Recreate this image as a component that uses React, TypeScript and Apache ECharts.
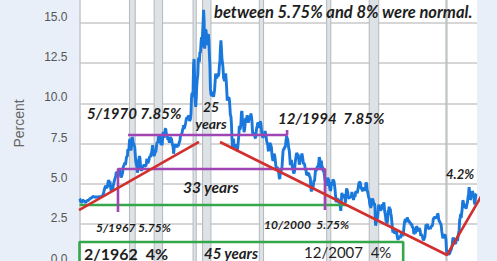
import React, { useEffect, useRef } from "react";
import * as echarts from "echarts";

// Monthly 10-year Treasury yield (percent), starting Jan 1962
const START_YEAR = 1962;
const yields1960s = [
  4.08, 4.04, 3.93, 3.84, 3.87, 3.91, 4.01, 3.98, 3.98, 3.93, 3.92, 3.86,
  3.83, 3.92, 3.93, 3.97, 3.93, 3.99, 4.02, 4.0, 4.08, 4.11, 4.12, 4.13,
  4.17, 4.15, 4.22, 4.23, 4.2, 4.17, 4.19, 4.19, 4.2, 4.19, 4.15, 4.18,
  4.19, 4.21, 4.21, 4.2, 4.21, 4.21, 4.2, 4.25, 4.29, 4.35, 4.45, 4.62,
  4.61, 4.83, 4.87, 4.75, 4.78, 4.81, 5.02, 5.22, 5.18, 5.01, 5.16, 4.84,
  4.58, 4.63, 4.54, 4.59, 4.85, 5.02, 5.16, 5.28, 5.3, 5.48, 5.75, 5.7,
  5.53, 5.56, 5.74, 5.64, 5.87, 5.72, 5.5, 5.42, 5.46, 5.58, 5.7, 6.03,
  6.04, 6.19, 6.3, 6.17, 6.32, 6.57, 6.72, 6.69, 7.16, 7.1, 7.14, 7.65,
];
const yields1970s = [
  7.8, 7.24, 7.07, 7.39, 7.91, 7.84, 7.46, 7.53, 7.39, 7.33, 6.84, 6.39,
  6.24, 6.11, 5.7, 5.83, 6.39, 6.52, 6.73, 6.58, 6.14, 5.93, 5.81, 5.93,
  5.95, 6.08, 6.07, 6.19, 6.13, 6.11, 6.11, 6.21, 6.55, 6.48, 6.28, 6.36,
  6.46, 6.64, 6.71, 6.67, 6.85, 6.9, 7.13, 7.4, 7.09, 6.79, 6.73, 6.74,
  6.99, 6.96, 7.21, 7.51, 7.58, 7.54, 7.81, 8.04, 8.04, 7.9, 7.68, 7.43,
  7.5, 7.39, 7.73, 8.23, 8.06, 7.86, 8.06, 8.4, 8.43, 8.14, 8.05, 8.0,
  7.74, 7.79, 7.73, 7.56, 7.9, 7.86, 7.83, 7.77, 7.59, 7.41, 7.29, 6.87,
  7.21, 7.39, 7.46, 7.37, 7.46, 7.28, 7.33, 7.4, 7.34, 7.52, 7.58, 7.69,
  7.96, 8.03, 8.04, 8.15, 8.35, 8.46, 8.64, 8.41, 8.42, 8.64, 8.81, 9.01,
  9.1, 9.1, 9.12, 9.18, 9.25, 8.91, 8.95, 9.03, 9.33, 10.3, 10.65, 10.39,
];
const yields1980s = [
  10.8, 12.41, 12.75, 11.47, 10.18, 9.78, 10.25, 11.1, 11.51, 11.75, 12.68, 12.84,
  12.57, 13.19, 13.12, 13.68, 14.1, 13.47, 14.28, 14.94, 15.8, 15.15, 13.39, 13.72,
  14.59, 14.43, 13.86, 13.87, 13.62, 14.3, 13.95, 13.06, 12.34, 10.91, 10.55, 10.54,
  10.46, 10.72, 10.51, 10.4, 10.38, 10.85, 11.38, 11.85, 11.65, 11.54, 11.69, 11.83,
  11.67, 11.84, 12.32, 12.63, 13.41, 13.9, 13.36, 12.72, 12.52, 12.16, 11.57, 11.5,
  11.38, 11.51, 11.86, 11.43, 10.85, 10.16, 10.31, 10.33, 10.37, 10.24, 9.78, 9.26,
  9.19, 8.7, 7.78, 7.3, 7.71, 7.8, 7.3, 7.17, 7.45, 7.43, 7.25, 7.11,
  7.08, 7.25, 7.25, 8.02, 8.61, 8.4, 8.45, 8.76, 9.42, 9.52, 8.86, 8.99,
  8.67, 8.21, 8.37, 8.72, 9.09, 8.92, 9.06, 9.26, 8.98, 8.8, 8.96, 9.11,
  9.09, 9.17, 9.36, 9.18, 8.86, 8.28, 8.02, 8.11, 8.19, 8.01, 7.87, 7.84,
];
const yields1990s = [
  8.21, 8.47, 8.59, 8.79, 8.76, 8.48, 8.47, 8.75, 8.89, 8.72, 8.39, 8.08,
  8.09, 7.85, 8.11, 8.04, 8.07, 8.28, 8.27, 7.9, 7.65, 7.53, 7.42, 7.09,
  7.03, 7.34, 7.54, 7.48, 7.39, 7.26, 6.84, 6.59, 6.42, 6.59, 6.87, 6.77,
  6.6, 6.26, 5.98, 5.97, 6.04, 5.96, 5.81, 5.68, 5.36, 5.33, 5.72, 5.77,
  5.75, 5.97, 6.48, 6.97, 7.18, 7.1, 7.3, 7.24, 7.46, 7.74, 7.96, 7.81,
  7.78, 7.47, 7.2, 7.06, 6.63, 6.17, 6.28, 6.49, 6.2, 6.04, 5.93, 5.71,
  5.65, 5.81, 6.27, 6.51, 6.74, 6.91, 6.87, 6.64, 6.83, 6.53, 6.2, 6.3,
  6.58, 6.42, 6.69, 6.89, 6.71, 6.49, 6.22, 6.3, 6.21, 6.03, 5.88, 5.81,
  5.54, 5.57, 5.65, 5.64, 5.65, 5.5, 5.46, 5.34, 4.81, 4.53, 4.83, 4.65,
  4.72, 5.0, 5.23, 5.18, 5.54, 5.9, 5.79, 5.94, 5.92, 6.11, 6.03, 6.28,
];
const yields2000s = [
  6.66, 6.52, 6.26, 5.99, 6.44, 6.1, 6.05, 5.83, 5.8, 5.74, 5.72, 5.24,
  5.16, 5.1, 4.89, 5.14, 5.39, 5.28, 5.24, 4.97, 4.73, 4.57, 4.65, 5.09,
  5.04, 4.91, 5.28, 5.21, 5.16, 4.93, 4.65, 4.26, 3.87, 3.94, 4.05, 4.03,
  4.05, 3.9, 3.81, 3.96, 3.57, 3.33, 3.98, 4.45, 4.27, 4.29, 4.3, 4.27,
  4.15, 4.08, 3.83, 4.35, 4.72, 4.73, 4.5, 4.28, 4.13, 4.1, 4.19, 4.23,
  4.22, 4.17, 4.5, 4.34, 4.14, 4.0, 4.18, 4.26, 4.2, 4.46, 4.54, 4.47,
  4.42, 4.57, 4.72, 4.99, 5.11, 5.11, 5.09, 4.88, 4.72, 4.73, 4.6, 4.56,
  4.76, 4.72, 4.56, 4.69, 4.75, 5.1, 5.0, 4.67, 4.52, 4.53, 4.15, 4.1,
  3.74, 3.74, 3.51, 3.68, 3.88, 4.1, 4.01, 3.89, 3.69, 3.81, 3.53, 2.42,
  2.52, 2.87, 2.82, 2.93, 3.29, 3.72, 3.56, 3.59, 3.4, 3.39, 3.4, 3.59,
];
const yields2010s = [
  3.73, 3.69, 3.73, 3.85, 3.42, 3.2, 3.01, 2.7, 2.65, 2.54, 2.76, 3.29,
  3.39, 3.58, 3.41, 3.46, 3.17, 3.0, 3.0, 2.3, 1.98, 2.15, 2.01, 1.98,
  1.97, 1.97, 2.17, 2.05, 1.8, 1.62, 1.53, 1.68, 1.72, 1.75, 1.65, 1.72,
  1.91, 1.98, 1.96, 1.76, 1.93, 2.3, 2.58, 2.74, 2.81, 2.62, 2.72, 2.9,
  2.86, 2.71, 2.72, 2.71, 2.56, 2.6, 2.54, 2.42, 2.53, 2.3, 2.33, 2.21,
  1.88, 1.98, 2.04, 1.94, 2.2, 2.36, 2.32, 2.17, 2.17, 2.07, 2.26, 2.24,
  2.09, 1.78, 1.89, 1.81, 1.81, 1.64, 1.5, 1.56, 1.63, 1.76, 2.14, 2.49,
  2.43, 2.42, 2.48, 2.3, 2.3, 2.19, 2.32, 2.21, 2.2, 2.36, 2.35, 2.4,
  2.58, 2.86, 2.84, 2.87, 2.98, 2.91, 2.89, 2.89, 3.0, 3.15, 3.12, 2.83,
  2.71, 2.68, 2.57, 2.53, 2.4, 2.07, 2.06, 1.63, 1.7, 1.71, 1.81, 1.86,
];
const yields2020s = [
  1.76, 1.5, 0.87, 0.66, 0.67, 0.73, 0.62, 0.65, 0.68, 0.79, 0.87, 0.93,
  1.08, 1.26, 1.61, 1.64, 1.62, 1.52, 1.32, 1.28, 1.37, 1.58, 1.56, 1.47,
  1.76, 1.93, 2.13, 2.75, 2.9, 3.14, 2.9, 2.9, 3.52, 3.98, 3.89, 3.62,
  3.53, 3.75, 3.66, 3.46, 3.57, 3.75, 3.9, 4.17, 4.38, 4.8, 4.5, 4.02,
  4.06, 4.21, 4.21, 4.54, 4.48, 4.31, 4.25, 3.87, 3.72, 4.1, 4.36, 4.39,
];

// NBER recessions [start, end] in decimal years
const recessions = [
  [1969.92, 1970.83],
  [1973.83, 1975.17],
  [1980.0, 1980.5],
  [1981.5, 1982.83],
  [1990.5, 1991.17],
  [2001.17, 2001.83],
  [2007.92, 2009.42],
  [2020.08, 2020.25],
];

// Annotation trend lines, [year, percent]
const redLines = [
  [[1961.92, 3.38], [1980.94, 7.6]],
  [[1984.27, 7.6], [2020.24, 0.59], [2025.79, 4.31]],
];
const purpleLines = [
  [[1968.1, 3.26], [1968.1, 5.92], [2000.9, 5.92], [2000.9, 3.38]],
  [[1969.7, 8.03], [1994.9, 8.03], [1994.9, 8.34]],
];
const greenLines = [
  [[1962.0, 3.69], [2004.4, 3.69]],
  [[1962.0, -0.8], [1962.0, 1.4], [2013.3, 1.4], [2013.3, -0.8]],
];

const Y_MIN = 0;
const Y_MAX = 17.5;
const Y_STEP = 2.5;
const X_MIN = 1962;
const X_MAX = 2025;

// the chart is drawn taller than the window and shifted up (cropped view)
const SHIFT = 40;

export default function App() {
  const ref = useRef<HTMLDivElement>(null);
  useEffect(() => {
    if (!ref.current) return;
    const chart = echarts.init(ref.current, null, { renderer: "svg" });
    const all = [
      ...yields1960s,
      ...yields1970s,
      ...yields1980s,
      ...yields1990s,
      ...yields2000s,
      ...yields2010s,
      ...yields2020s,
    ];
    const data = all.map((v, i) => [START_YEAR + i / 12, v]);

    const lineSeries = (segs: number[][][], color: string, z: number) =>
      segs.map((seg) => ({
        type: "line",
        data: seg,
        symbol: "none",
        clip: false,
        silent: true,
        z,
        lineStyle: { color, width: 2.6 },
      }));

    const bi = {
      fontFamily: "Lato",
      fontWeight: "bold",
      fontStyle: "italic",
      fill: "#1e1e1e",
    };
    const txt = (text: string, x: number, y: number, size: number, extra: any = {}) => ({
      type: "text",
      x,
      y: y + SHIFT,
      z: 100,
      style: {
        text,
        fontSize: size,
        textAlign: "left",
        textVerticalAlign: "middle",
        ...bi,
        ...extra,
      },
    });

    chart.setOption({
      animation: false,
      backgroundColor: "#e8eff8",
      grid: {
        left: 79.5,
        right: 20,
        top: 22.4,
        bottom: 15.5,
        show: true,
        backgroundColor: "#ffffff",
        borderWidth: 0,
      },
      xAxis: {
        type: "value",
        min: X_MIN,
        max: X_MAX,
        axisLabel: { show: false },
        axisTick: { show: false },
        axisLine: { show: false },
        splitLine: { show: false },
      },
      yAxis: {
        type: "value",
        min: Y_MIN,
        max: Y_MAX,
        interval: Y_STEP,
        name: "Percent",
        nameLocation: "middle",
        nameRotate: 90,
        nameGap: 54,
        nameTextStyle: { color: "#666", fontSize: 14, fontFamily: "Liberation Sans" },
        axisLine: { show: true, lineStyle: { color: "#c4c4c4", width: 1.5 } },
        axisTick: { show: false },
        axisLabel: {
          color: "#555",
          fontSize: 12,
          fontFamily: "Liberation Sans",
          margin: 12,
          verticalAlign: "bottom",
          showMaxLabel: false,
          formatter: (v: number) => v.toFixed(1),
        },
        splitLine: { lineStyle: { color: "#c8c8c8", width: 1.5 } },
      },
      series: [
        {
          type: "line",
          data,
          symbol: "none",
          z: 5,
          lineStyle: { color: "#1a78dc", width: 2.9 },
          markArea: {
            silent: true,
            itemStyle: { color: "#dde2e7", borderColor: "#b4b8bc", borderWidth: 1 },
            data: recessions.map(([a, b]) => [{ xAxis: a }, { xAxis: b }]),
          },
        },
        ...lineSeries(greenLines, "#36a64b", 6),
        ...lineSeries(purpleLines, "#a046b4", 7),
        ...lineSeries(redLines, "#d1302e", 8),
      ],
      graphic: [
        txt("between 5.75% and 8% were normal.", 214, 12, 16.5),
        txt("5/1970 7.85%", 87, 113, 15),
        txt("25", 211, 106, 14, { textAlign: "center" }),
        txt("years", 211, 123, 14, { textAlign: "center" }),
        txt("12/1994  7.85%", 278, 118, 15),
        txt("33 years", 183, 187, 15.5),
        txt("5/1967 5.75%", 96, 227, 12),
        txt("10/2000  5.75%", 264, 224, 12),
        txt("2/1962  4%", 84, 253, 16, { fontStyle: "normal" }),
        txt("45 years", 204, 253, 15),
        txt("12/2007  4%", 304, 252, 15, { fontStyle: "normal", fontWeight: "normal" }),
        txt("4.2%", 446, 174, 13),
      ],
    });
    return () => chart.dispose();
  }, []);
  return (
    <div
      style={{
        position: "fixed",
        left: 0,
        top: 0,
        width: 497,
        height: 261,
        overflow: "hidden",
      }}
    >
      <div
        ref={ref}
        style={{ position: "absolute", left: 0, top: -SHIFT, width: 497, height: 320 }}
      />
    </div>
  );
}
